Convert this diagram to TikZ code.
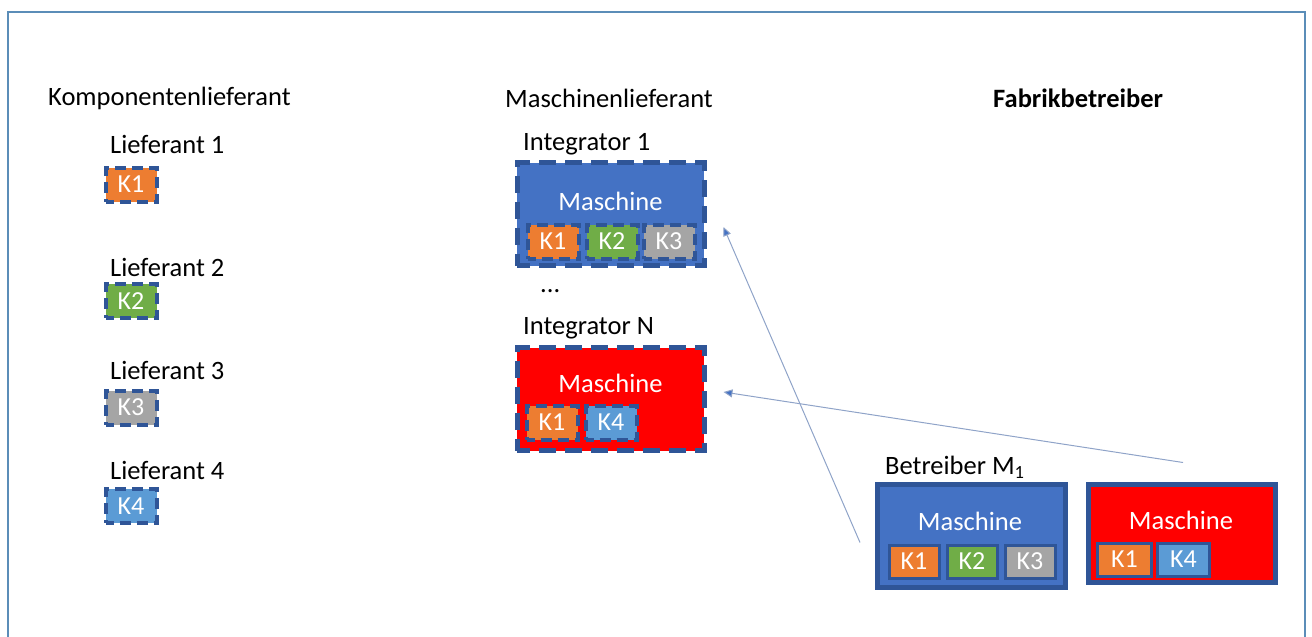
\documentclass[tikz,border=0pt]{standalone}
\usepackage{fontspec}
\setmainfont{Carlito}
\usetikzlibrary{arrows.meta}
\definecolor{dblue}{HTML}{2F5597}
\definecolor{mblue}{HTML}{4472C4}
\definecolor{lblue}{HTML}{5B9BD5}
\definecolor{korange}{HTML}{ED7D31}
\definecolor{kgreen}{HTML}{70AD47}
\definecolor{kgray}{HTML}{A5A5A5}
\definecolor{kred}{HTML}{FF0000}
\definecolor{framecol}{HTML}{5B8DB8}
\definecolor{arrcol}{HTML}{8FA3C8}
\tikzset{
  lbl/.style={font=\fontsize{26.5}{30}\selectfont, anchor=west, inner sep=0},
  kdash/.style={draw=dblue, line width=4pt, dash pattern=on 11pt off 6pt, dash phase=3pt, text=white, font=\fontsize{26}{30}\selectfont, minimum width=51, minimum height=34, inner sep=0},
  ksolid/.style={draw=dblue, line width=3pt, text=white, font=\fontsize{26}{30}\selectfont, minimum width=50, minimum height=33, inner sep=0},
  mdash/.style={draw=dblue, line width=5pt, dash pattern=on 17pt off 9pt, dash phase=4pt, minimum width=187, minimum height=103, inner sep=0},
  msolid/.style={draw=dblue, line width=5pt, minimum width=189, minimum height=103, inner sep=0},
  mtext/.style={text=white, font=\fontsize{26.5}{30}\selectfont, inner sep=0},
  arr/.style={draw=arrcol, line width=1pt, -{Triangle[length=9pt,width=8pt,fill=mblue]}}
}
\begin{document}
\begin{tikzpicture}[x=1pt,y=-1pt]
\useasboundingbox (0,0) rectangle (1312,637);
\draw[framecol, line width=1.5pt] (8,640) -- (8,12) -- (1305,12) -- (1305,640);

% headers
\node[lbl] (h1) at (48,98) {Komponentenlieferant};
\node[lbl] (h2) at (505,98) {Maschinenlieferant};
\node[lbl, font=\fontsize{26.5}{30}\selectfont\bfseries] (h3) at (993,98) {Fabrikbetreiber};

% suppliers
\node[lbl] (l1) at (110,144) {Lieferant 1};
\node[kdash, fill=korange] (s1) at (131,184.5) {K1};
\node[lbl] (l2) at (110,267) {Lieferant 2};
\node[kdash, fill=kgreen] (s2) at (131,301) {K2};
\node[lbl] (l3) at (110,370) {Lieferant 3};
\node[kdash, fill=kgray] (s3) at (131,407.5) {K3};
\node[lbl] (l4) at (110,470) {Lieferant 4};
\node[kdash, fill=lblue] (s4) at (131,506) {K4};

% integrator 1
\node[lbl] (i1l) at (523,144) {Integrator 1};
\node[mdash, fill=mblue] (int1) at (610.5,214) {};
\node[mtext] (int1t) at (610.5,201) {Maschine};
\node[kdash, fill=korange] (i1k1) at (553,241.5) {K1};
\node[kdash, fill=kgreen] (i1k2) at (612,241.5) {K2};
\node[kdash, fill=kgray] (i1k3) at (669,241.5) {K3};

\node[lbl] (dots) at (540,291) {...};

% integrator N
\node[lbl] (iNl) at (523,328) {Integrator N};
\node[mdash, fill=kred] (intN) at (610.5,399) {};
\node[mtext] (intNt) at (610.5,383) {Maschine};
\node[kdash, fill=korange] (iNk1) at (552,422.5) {K1};
\node[kdash, fill=lblue] (iNk4) at (611,422.5) {K4};

% operator
\node[lbl] (b1l) at (885,467) {Betreiber M\textsubscript{1}};
\node[msolid, fill=mblue, minimum width=188, minimum height=103] (b1) at (971.5,535.5) {};
\node[mtext] (b1t) at (970,521) {Maschine};
\node[ksolid, fill=korange] (b1k1) at (914,561.5) {K1};
\node[ksolid, fill=kgreen] (b1k2) at (972,561.5) {K2};
\node[ksolid, fill=kgray] (b1k3) at (1030,561.5) {K3};

\node[msolid, fill=kred, minimum width=187, minimum height=98] (b2) at (1181.5,533) {};
\node[mtext] (b2t) at (1181,520) {Maschine};
\node[ksolid, fill=korange, minimum width=54] (b2k1) at (1124.5,559.5) {K1};
\node[ksolid, fill=lblue, minimum width=52] (b2k4) at (1183.5,559.5) {K4};

% arrows
\draw[arr] ([shift={(-15,7)}]b1.west) -- ([shift={(17,13)}]int1.east);
\draw[arr] ([shift={(1.5,-19)}]b2.north) -- ([shift={(17,-7)}]intN.east);
\end{tikzpicture}
\end{document}
